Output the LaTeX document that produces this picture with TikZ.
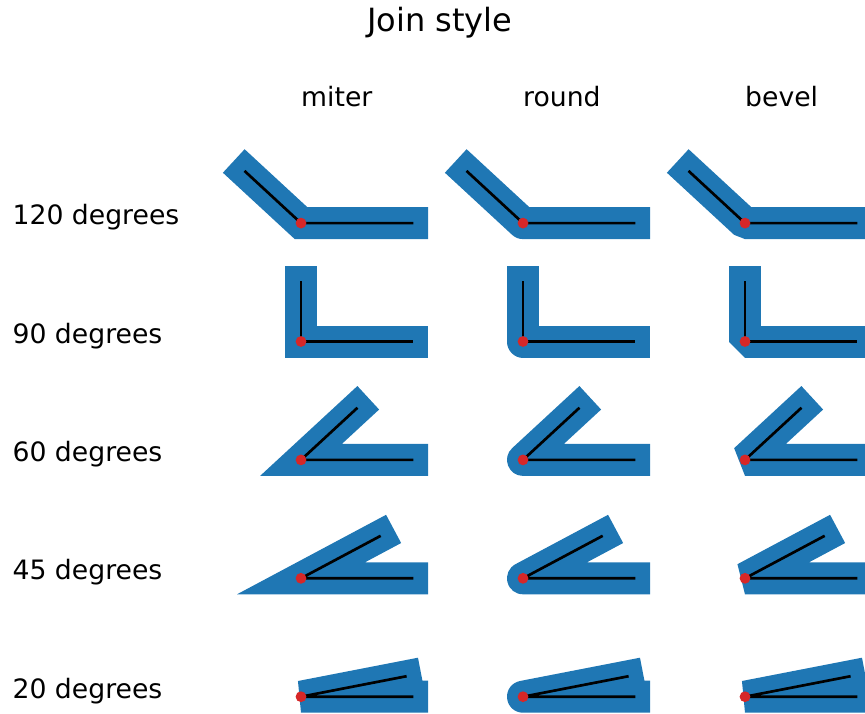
\documentclass[tikz,border=0pt]{standalone}
\usepackage{fontspec}
\setmainfont{DejaVu Sans}
\definecolor{tabblue}{HTML}{1F77B4}
\definecolor{tabred}{HTML}{D62728}
\begin{document}
\begin{tikzpicture}[x=1pt,y=-1pt,
  lbl/.style={font=\fontsize{26.67}{32}\selectfont, inner sep=0pt, anchor=base west},
  titlestyle/.style={font=\fontsize{32}{38}\selectfont, inner sep=0pt, anchor=base},
  blueline/.style={draw=tabblue, line width=32pt, line cap=rect, miter limit=6},
  blackline/.style={draw=black, line width=2.67pt, line cap=rect, line join=round},
  vertexdot/.style={fill=tabred}]
\useasboundingbox (0,0) rectangle (865,713);
\node[titlestyle] (title) at (439.75,31.5) {Join style};
\foreach \s [count=\c from 0] in {miter,round,bevel} {
  \pgfmathsetmacro\xx{301+222*\c}
  \node[lbl] (h\c) at (\xx,106.7) {\s};
  \foreach \a [count=\r from 0] in {20,45,60,90,120} {
    \pgfmathsetmacro\yy{696.7-118.4*\r}
    \coordinate (v\c\r) at (\xx,\yy);
    \coordinate (a\c\r) at (\xx+111,\yy);
    \coordinate (b\c\r) at ({\xx+111*cos(\a)},{\yy-59.2*sin(\a)});
    \draw[blueline, line join=\s] (a\c\r) -- (v\c\r) -- (b\c\r);
    \draw[blackline] (a\c\r) -- (v\c\r) -- (b\c\r);
    \fill[vertexdot] (v\c\r) circle (5.4);
    \ifnum\c=0 \node[lbl] (l\r) at (12.4,\yy+1.5) {\a{} degrees}; \fi
  }
}
\end{tikzpicture}
\end{document}
